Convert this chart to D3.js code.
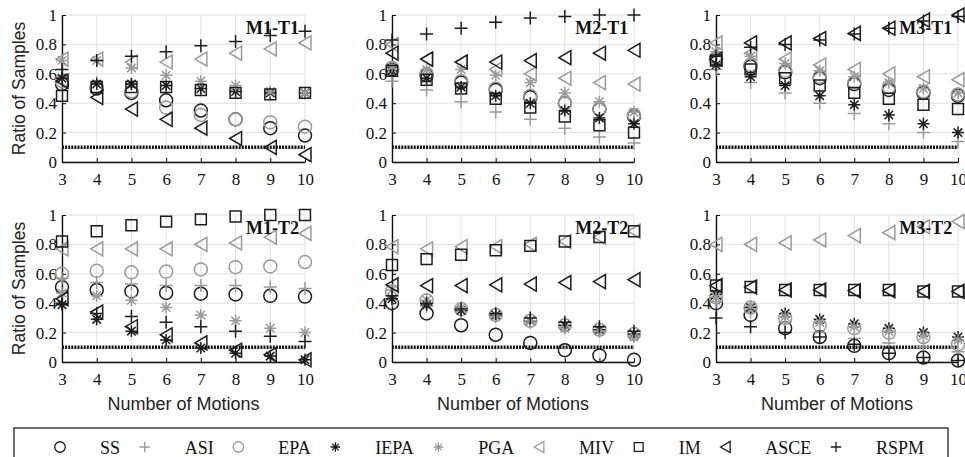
<!DOCTYPE html>
<html><head><meta charset="utf-8">
<script src="https://cdn.jsdelivr.net/npm/d3@7"></script>
<style>body{margin:0;background:#fff}svg{display:block}</style>
</head><body><svg id="c" width="965" height="457"></svg>
<script>
// ---------- data ----------
const xValues = [3,4,5,6,7,8,9,10];
const yTicks = [0,0.2,0.4,0.6,0.8,1];
const yTickLabels = ["0","0.2","0.4","0.6","0.8","1"];
const seriesNames = ["SS","ASI","EPA","IEPA","PGA","MIV","IM","ASCE","RSPM"];
const panelTitles = ["M1-T1","M2-T1","M3-T1","M1-T2","M2-T2","M3-T2"];
const thresholdValue = 0.1;
const yAxisTitle = "Ratio of Samples";
const xAxisTitle = "Number of Motions";

// rows in series order: SS, ASI, EPA, IEPA, PGA, MIV, IM, ASCE, RSPM
const panelM1T1 = [
  [0.53,0.50,0.47,0.42,0.35,0.29,0.23,0.18],
  [0.58,0.54,0.53,0.52,0.50,0.48,0.47,0.47],
  [0.55,0.51,0.48,0.37,0.32,0.29,0.27,0.24],
  [0.57,0.53,0.53,0.52,0.50,0.48,0.47,0.47],
  [0.69,0.69,0.64,0.59,0.55,0.52,0.48,0.47],
  [0.70,0.70,0.68,0.68,0.70,0.74,0.77,0.81],
  [0.45,0.51,0.51,0.51,0.49,0.47,0.46,0.47],
  [0.55,0.44,0.36,0.29,0.23,0.16,0.10,0.05],
  [0.63,0.69,0.72,0.75,0.79,0.82,0.86,0.89]
];
const panelM2T1 = [
  [0.63,0.59,0.54,0.49,0.44,0.40,0.36,0.31],
  [0.55,0.49,0.41,0.34,0.29,0.23,0.17,0.13],
  [0.64,0.60,0.55,0.50,0.45,0.40,0.36,0.32],
  [0.62,0.57,0.51,0.45,0.40,0.35,0.30,0.26],
  [0.65,0.63,0.63,0.59,0.54,0.47,0.41,0.34],
  [0.80,0.70,0.68,0.63,0.60,0.57,0.54,0.53],
  [0.62,0.56,0.50,0.43,0.37,0.31,0.25,0.20],
  [0.74,0.70,0.68,0.68,0.69,0.71,0.74,0.76],
  [0.83,0.87,0.91,0.95,0.98,0.99,1.00,1.00]
];
const panelM3T1 = [
  [0.70,0.65,0.61,0.57,0.53,0.49,0.47,0.45],
  [0.63,0.54,0.47,0.40,0.33,0.26,0.20,0.14],
  [0.70,0.66,0.62,0.58,0.54,0.51,0.48,0.46],
  [0.66,0.58,0.52,0.45,0.39,0.32,0.26,0.20],
  [0.75,0.72,0.67,0.62,0.58,0.54,0.50,0.47],
  [0.81,0.74,0.70,0.66,0.63,0.60,0.58,0.56],
  [0.69,0.63,0.57,0.52,0.47,0.43,0.39,0.36],
  [0.70,0.81,0.81,0.84,0.875,0.91,0.965,1.00],
  [0.72,0.78,0.80,0.83,0.87,0.91,0.96,0.99]
];
const panelM1T2 = [
  [0.51,0.49,0.48,0.47,0.465,0.46,0.45,0.445],
  [0.57,0.54,0.53,0.52,0.52,0.52,0.51,0.50],
  [0.60,0.62,0.61,0.615,0.63,0.645,0.65,0.68],
  [0.39,0.29,0.21,0.15,0.095,0.06,0.04,0.015],
  [0.47,0.45,0.42,0.37,0.32,0.28,0.23,0.20],
  [0.77,0.77,0.77,0.77,0.80,0.81,0.85,0.875],
  [0.82,0.89,0.93,0.955,0.97,0.99,1.00,1.00],
  [0.43,0.34,0.24,0.185,0.13,0.08,0.05,0.015],
  [0.40,0.33,0.31,0.27,0.24,0.21,0.175,0.14]
];
const panelM2T2 = [
  [0.40,0.33,0.25,0.185,0.13,0.08,0.045,0.015],
  [0.42,0.38,0.34,0.31,0.27,0.24,0.21,0.18],
  [0.48,0.42,0.36,0.32,0.28,0.25,0.22,0.19],
  [0.43,0.39,0.35,0.32,0.28,0.25,0.22,0.19],
  [0.49,0.42,0.37,0.31,0.28,0.23,0.21,0.17],
  [0.785,0.77,0.785,0.785,0.80,0.82,0.85,0.89],
  [0.66,0.70,0.73,0.76,0.79,0.82,0.85,0.89],
  [0.525,0.52,0.52,0.525,0.53,0.54,0.547,0.56],
  [0.45,0.40,0.36,0.33,0.30,0.27,0.24,0.21]
];
const panelM3T2 = [
  [0.40,0.32,0.23,0.17,0.11,0.06,0.03,0.01],
  [0.41,0.34,0.27,0.20,0.16,0.13,0.10,0.07],
  [0.44,0.37,0.30,0.25,0.23,0.20,0.17,0.12],
  [0.46,0.37,0.33,0.29,0.26,0.23,0.20,0.17],
  [0.44,0.38,0.31,0.27,0.24,0.21,0.18,0.15],
  [0.80,0.80,0.81,0.83,0.86,0.88,0.92,0.955],
  [0.52,0.51,0.49,0.49,0.49,0.49,0.48,0.48],
  [0.52,0.51,0.49,0.49,0.485,0.485,0.48,0.48],
  [0.30,0.24,0.20,0.17,0.12,0.06,0.03,0.01]
];
const panels = [panelM1T1, panelM2T1, panelM3T1, panelM1T2, panelM2T2, panelM3T2];

// ---------- styles ----------
const BLACK = "#1c1c1c", GRAY = "#9a9a9a";
const seriesColor = [BLACK, GRAY, GRAY, BLACK, GRAY, GRAY, BLACK, BLACK, BLACK];
const seriesShape = ["circle","plus","circle","asterisk","asterisk","ltri","square","ltri","plus"];
const SERIF = "'Liberation Serif','Times New Roman',Times,serif";
const SANS = "'Liberation Sans',Arial,Helvetica,sans-serif";

const shapes = {
  circle: {draw(ctx, d){ const r = d/2; ctx.moveTo(r,0); ctx.arc(0,0,r,0,2*Math.PI); ctx.closePath(); }},
  square: {draw(ctx, d){ const h = d*0.42; ctx.moveTo(-h,-h); ctx.lineTo(h,-h); ctx.lineTo(h,h); ctx.lineTo(-h,h); ctx.closePath(); }},
  plus: {draw(ctx, d){ const h = d/2; ctx.moveTo(-h,0); ctx.lineTo(h,0); ctx.moveTo(0,-h); ctx.lineTo(0,h); }},
  asterisk: {draw(ctx, d){ const h = d*0.46, q = h*0.7071;
    ctx.moveTo(-h,0); ctx.lineTo(h,0); ctx.moveTo(0,-h); ctx.lineTo(0,h);
    ctx.moveTo(-q,-q); ctx.lineTo(q,q); ctx.moveTo(-q,q); ctx.lineTo(q,-q); }},
  ltri: {draw(ctx, d){ const w = d*0.46, h = d*0.54; ctx.moveTo(-w,0); ctx.lineTo(w,-h); ctx.lineTo(w,h); ctx.closePath(); }}
};

// ---------- layout ----------
const colRange = [[62,305],[392,634],[716,958]];
const rowRange = [[162,15],[362,215]];

const svg = d3.select("#c");
svg.append("rect").attr("width",965).attr("height",457).attr("fill","#fff");

panels.forEach((data, pi) => {
  const col = pi % 3, row = Math.floor(pi / 3);
  const x = d3.scaleLinear().domain([3,10]).range(colRange[col]);
  const y = d3.scaleLinear().domain([0,1]).range(rowRange[row]);
  const g = svg.append("g");

  // grid
  g.append("g").selectAll("line").data(xValues).join("line")
    .attr("x1", d => x(d)).attr("x2", d => x(d)).attr("y1", y(0)).attr("y2", y(1))
    .attr("stroke", "#e0e0e0").attr("stroke-width", 1);
  g.append("g").selectAll("line").data(yTicks).join("line")
    .attr("x1", x(3)).attr("x2", x(10)).attr("y1", d => y(d)).attr("y2", d => y(d))
    .attr("stroke", "#e0e0e0").attr("stroke-width", 1);

  // threshold dotted line
  g.append("line").attr("x1", x(3)).attr("x2", x(10))
    .attr("y1", y(thresholdValue)).attr("y2", y(thresholdValue))
    .attr("stroke", "#111").attr("stroke-width", 3.6).attr("stroke-dasharray", "2 1.1");

  // axes
  const xa = g.append("g").attr("transform", `translate(0,${y(0)})`)
    .call(d3.axisBottom(x).tickValues(xValues).tickFormat(d3.format("d"))
      .tickSizeInner(-4).tickSizeOuter(0).tickPadding(11));
  const ya = g.append("g").attr("transform", `translate(${x(3)},0)`)
    .call(d3.axisLeft(y).tickValues(yTicks).tickFormat((d,i) => yTickLabels[i])
      .tickSizeInner(-4).tickSizeOuter(0).tickPadding(5));
  [xa, ya].forEach(a => {
    a.select(".domain").attr("stroke", "#111").attr("stroke-width", 1.4);
    a.selectAll(".tick line").attr("stroke", "#111").attr("stroke-width", 1);
    a.selectAll("text").attr("font-family", SERIF).attr("font-size", 17).attr("fill", "#111");
  });

  // markers
  data.forEach((vals, si) => {
    const sym = d3.symbol().type(shapes[seriesShape[si]]).size(13);
    g.append("g").selectAll("path").data(vals).join("path")
      .attr("d", sym)
      .attr("transform", (v, j) => `translate(${x(xValues[j])},${y(v)})`)
      .attr("fill", "none")
      .attr("stroke", seriesColor[si])
      .attr("stroke-width", 1.5);
  });

  // title
  g.append("text").attr("x", x(8.3)).attr("y", y(0.87))
    .attr("font-family", SERIF).attr("font-weight", "bold").attr("font-size", 18)
    .attr("fill", "#111").text(panelTitles[pi]);

  if (col === 0) {
    const cy = (rowRange[row][0] + rowRange[row][1]) / 2;
    g.append("text").attr("transform", `translate(25,${cy}) rotate(-90)`)
      .attr("text-anchor", "middle").attr("font-family", SANS).attr("font-size", 17.5)
      .attr("fill", "#222").text(yAxisTitle);
  }
  if (row === 1) {
    g.append("text").attr("x", (colRange[col][0] + colRange[col][1]) / 2).attr("y", 410)
      .attr("text-anchor", "middle").attr("font-family", SANS).attr("font-size", 18)
      .attr("fill", "#222").text(xAxisTitle);
  }
});

// ---------- legend ----------
const lg = svg.append("g");
lg.append("rect").attr("x", 14).attr("y", 428).attr("width", 934).attr("height", 40)
  .attr("fill", "#fff").attr("stroke", "#222").attr("stroke-width", 1.3);
const firstMarker = 60, lastMarker = 836, textGap = 40;
const labels = seriesNames.map(n => lg.append("text").attr("y", 454)
  .attr("font-family", SERIF).attr("font-size", 18).attr("fill", "#111").text(n));
const widths = labels.map(t => t.node().getComputedTextLength());
const sumW = d3.sum(widths.slice(0, -1));
const gap = (lastMarker - firstMarker - (seriesNames.length - 1) * textGap - sumW) / (seriesNames.length - 1);
let mx = firstMarker;
seriesNames.forEach((n, i) => {
  lg.append("path").attr("d", d3.symbol().type(shapes[seriesShape[i]]).size(10.5))
    .attr("transform", `translate(${mx},447)`)
    .attr("fill", "none").attr("stroke", seriesColor[i]).attr("stroke-width", 1.3);
  labels[i].attr("x", mx + textGap);
  mx += textGap + widths[i] + gap;
});
</script></body></html>
